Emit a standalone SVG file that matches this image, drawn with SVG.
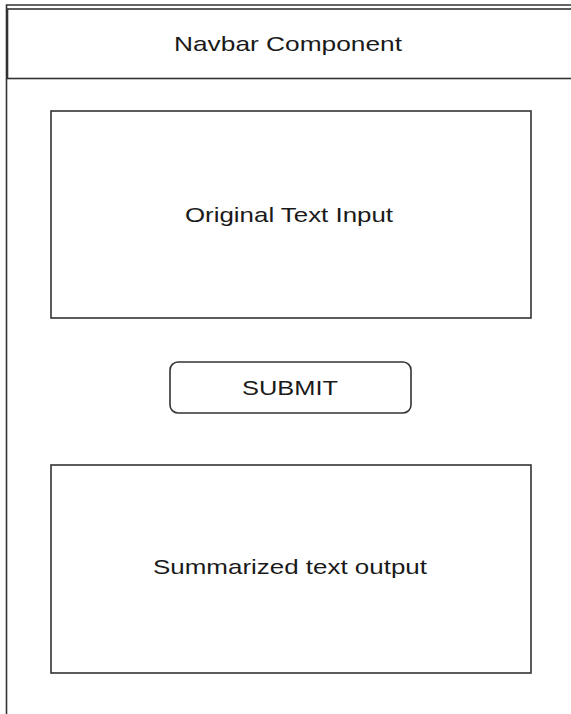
<svg xmlns="http://www.w3.org/2000/svg" width="571" height="714" viewBox="0 0 571 714">
<style>
.box{fill:#fff;stroke:#333;stroke-width:1.6}
.ln{fill:none;stroke:#333;stroke-width:1.6}
.t{font-family:"Liberation Sans",Arial,sans-serif;font-size:21px;fill:#1a1a1a}
</style>
<rect width="571" height="714" fill="#fff"/>
<g id="frame">
<path class="ln" d="M6.5,714 V5 H571"/>
</g>
<g id="navbar">
<rect class="box" x="7.5" y="9" width="600" height="69.5"/>
<text class="t" x="174" y="51" textLength="228" lengthAdjust="spacingAndGlyphs">Navbar Component</text>
</g>
<g id="input">
<rect class="box" x="51" y="111" width="480" height="207"/>
<text class="t" x="185" y="222" textLength="208" lengthAdjust="spacingAndGlyphs">Original Text Input</text>
</g>
<g id="submit">
<rect class="box" x="170" y="362" width="241" height="51" rx="8" ry="8"/>
<text class="t" x="242" y="395" textLength="96" lengthAdjust="spacingAndGlyphs">SUBMIT</text>
</g>
<g id="output">
<rect class="box" x="51" y="465" width="480" height="208"/>
<text class="t" x="153" y="574" textLength="274" lengthAdjust="spacingAndGlyphs">Summarized text output</text>
</g>
<g id="connectors"></g>
</svg>
